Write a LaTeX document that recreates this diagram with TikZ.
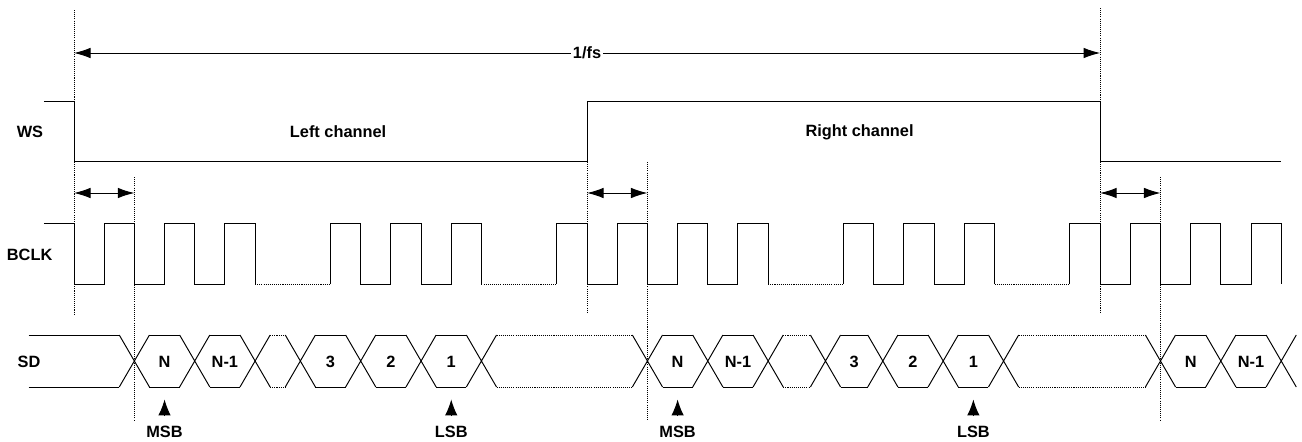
\documentclass[tikz,border=0pt]{standalone}
\usepackage{fontspec}
\setmainfont{Liberation Sans}
\usetikzlibrary{scopes,arrows.meta}

\begin{document}
\begin{tikzpicture}[
    x=6.036mm, y=-0.2mm,
    wave/.style={draw=black,line width=0.55pt},
    gap/.style={draw=black,line width=0.55pt,dash pattern=on 0.6pt off 0.6pt},
    guide/.style={draw=black,line width=0.45pt,dash pattern=on 0.6pt off 0.6pt},
    dim/.style={<->,>={Latex[length=3.3mm,width=2.1mm]},line width=0.55pt},
    ptr/.style={->,>={Latex[length=3.2mm,width=2.5mm]},line width=0.55pt,shorten >=6.3mm},
    lbl/.style={font=\bfseries\fontsize{9.3}{11}\selectfont,inner sep=0pt},
    tag/.style={lbl,fill=white,inner sep=1.2pt},
    side/.style={lbl,outer sep=2mm},
]
\useasboundingbox (-2.452,0) rectangle (40.689,442);

% signal names
\node[lbl] (ws) at (-1.46,132) {WS};
\node[lbl] (bclk) at (-1.47,255) {BCLK};
\node[lbl] (sd) at (-1.49,362) {SD};
\node[lbl] (left) at (8.75,132) {Left channel};
\node[lbl] (right) at (26.03,132) {Right channel};

% guides
\foreach \x/\t/\b in {0/10/315, 2/177/420, 17/162/313, 19/162/420, 34/8/313, 36/177/420}
    \draw[guide] (\x,\t) -- (\x,\b);

% 1/fs and delays
\coordinate (fsL) at (0,53);
\coordinate (fsR) at (34,53);
\draw[dim] (fsL) -- node[tag] (fs) {1/fs} (fsR);
\foreach \s [count=\i] in {0,17,34} {
    \coordinate (d\i a) at (\s,193);
    \coordinate (d\i b) at (\s+2,193);
    \draw[dim] (d\i a) -- (d\i b);
}

% WS
\draw[wave] (-1,101) -- (0,101) -- (0,161) -- (17,161) -- (17,101) -- (34,101) -- (34,161) -- (40,161);

% BCLK
{[wave]
    \draw (-1,223) -- (0,223) -- (0,284)
        \foreach \a in {1,3,5} { -- (\a,284) -- (\a,223) -- (\a+1,223) -- (\a+1,284) };
    \draw (8.5,284)
        \foreach \a in {8.5,10.5,12.5} { -- (\a,284) -- (\a,223) -- (\a+1,223) -- (\a+1,284) };
    \draw (16,284)
        \foreach \a in {16,18,20,22} { -- (\a,284) -- (\a,223) -- (\a+1,223) -- (\a+1,284) };
    \draw (25.5,284)
        \foreach \a in {25.5,27.5,29.5} { -- (\a,284) -- (\a,223) -- (\a+1,223) -- (\a+1,284) };
    \draw (33,284)
        \foreach \a in {33,35,37,39} { -- (\a,284) -- (\a,223) -- (\a+1,223) -- (\a+1,284) };
}
\foreach \a/\b in {6/8.5, 13.5/16, 23/25.5, 30.5/33}
    \draw[gap] (\a,284) -- (\b,284);

% SD
\draw[wave] (-1.5,335) -- (1.5,335) (-1.5,387) -- (1.5,387);
\foreach \c in {2,4,6,7.5,9.5,11.5,13.5,19,21,23,24.9,26.8,28.8,30.8,36,38,40}
    \draw[wave] (\c-.5,335) -- (\c+.5,387) (\c-.5,387) -- (\c+.5,335);
\foreach \a/\b/\t/\n in {2/4/N/n1, 4/6/N-1/m1, 7.5/9.5/3/c1, 9.5/11.5/2/b1, 11.5/13.5/1/a1,
        19/21/N/n2, 21/23/N-1/m2, 24.9/26.8/3/c2, 26.8/28.8/2/b2, 28.8/30.8/1/a2,
        36/38/N/n3, 38/40/N-1/m3} {
    \draw[wave] (\a+.5,335) -- (\b-.5,335) (\a+.5,387) -- (\b-.5,387);
    \node[lbl] (\n) at ({(\a+\b)/2},362) {\t};
}
\foreach \a/\b in {6/7.5, 13.5/19, 23/24.9, 30.8/36}
    \draw[gap] (\a+.5,335) -- (\b-.5,335) (\a+.5,387) -- (\b-.5,387);

% MSB / LSB
\node[side] (msb1) at (3,432) {MSB};
\node[side] (lsb1) at (12.5,432) {LSB};
\node[side] (msb2) at (20,432) {MSB};
\node[side] (lsb2) at (29.8,432) {LSB};
\draw[ptr] (msb1) -- (n1);
\draw[ptr] (lsb1) -- (a1);
\draw[ptr] (msb2) -- (n2);
\draw[ptr] (lsb2) -- (a2);
\end{tikzpicture}
\end{document}
